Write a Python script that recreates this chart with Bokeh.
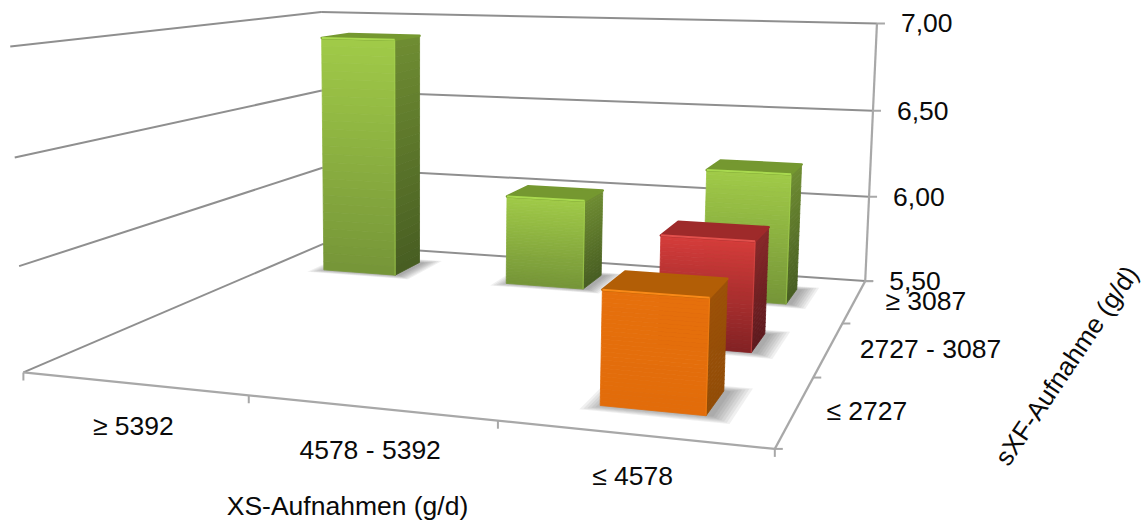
import numpy as np
from bokeh.core.properties import value
from bokeh.embed import file_html
from bokeh.models import ColumnDataSource, Range1d
from bokeh.plotting import figure
from bokeh.resources import INLINE

# Chart content
xs_categories = ["≥ 5392", "4578 - 5392", "≤ 4578"]
sxf_categories = ["≤ 2727", "2727 - 3087", "≥ 3087"]
value_ticks = [5.5, 6.0, 6.5, 7.0]
value_tick_labels = ["5,50", "6,00", "6,50", "7,00"]
bar_xs_index = [0, 1, 2, 2, 2]
bar_sxf_index = [2, 2, 2, 1, 0]
bar_values = [6.89, 6.01, 6.22, 6.05, 6.01]

VMIN, VMAX = value_ticks[0], value_ticks[-1]
BAR_HALF_X = 0.2
BAR_HALF_Y = 0.18

# Camera calibration: plot-box locations and where they land on the page
box_points = np.array([
    (0, 3, 0), (3, 3, 0), (3, 0, 0), (0, 0, 0), (0, 3, 1), (3, 3, 1), (0, 0, 1),
    (1, 0, 0), (2, 0, 0), (3, 1, 0), (3, 2, 0), (0, 3, 1 / 3), (0, 0, 1 / 3), (0, 3, 2 / 3), (0, 0, 2 / 3),
], dtype=float)
page_points = np.array([
    (323, 243), (865, 280), (773, 449), (24, 372), (320, 12), (877, 24), (10, 45),
    (248, 398), (497, 422), (813, 375), (842, 322), (322, 168), (18, 264), (321, 90), (15, 156),
], dtype=float)


def fit_camera(world, page):
    rows = []
    for (x, y, z), (u, v) in zip(world, page):
        rows.append([x, y, z, 1, 0, 0, 0, 0, -u * x, -u * y, -u * z, -u])
        rows.append([0, 0, 0, 0, x, y, z, 1, -v * x, -v * y, -v * z, -v])
    return np.linalg.svd(np.array(rows))[2][-1].reshape(3, 4)


CAMERA = fit_camera(box_points, page_points)


def project(x, y, v):
    """Map column, depth and chart value to page coordinates."""
    h = CAMERA @ np.array([x, y, (v - VMIN) / (VMAX - VMIN), 1.0])
    return h[0] / h[2], h[1] / h[2]


def mix(a, b, t):
    a, b = np.array(a, float), np.array(b, float)
    c = a + (b - a) * t
    return "#%02x%02x%02x" % tuple(int(round(k)) for k in c)


p = figure(width=1146, height=520, output_backend="svg", toolbar_location=None,
           x_range=Range1d(0, 1146), y_range=Range1d(520, 0), min_border=0,
           outline_line_color=None, background_fill_color="white")
p.axis.visible = False
p.grid.visible = False

GRID = "#8f8f8f"
AXIS = "#a8a8a8"


def seg(a, b, color, width=2.0, alpha=1.0):
    p.line([a[0], b[0]], [a[1], b[1]], line_color=color, line_width=width, line_alpha=alpha)


# Walls: gridlines at every value tick
for v in value_ticks:
    seg(project(0, 0, v), project(0, 3, v), GRID)
    seg(project(0, 3, v), project(3, 3, v), GRID)

# Floor edges and the upright value axis
seg(project(0, 0, VMIN), project(3, 0, VMIN), AXIS, 2.2)
seg(project(3, 0, VMIN), project(3, 3, VMIN), AXIS, 2.2)
seg(project(3, 3, VMIN), project(3, 3, VMAX), AXIS, 2.2)

for i in range(4):
    a = project(i, 0, VMIN)
    seg(a, (a[0], a[1] + 8), AXIS, 2.0)
for k in range(4):
    a = project(3, k, VMIN)
    seg(a, (a[0] + 8, a[1]), AXIS, 2.0)
for v in value_ticks:
    a = project(3, 3, v)
    seg(a, (a[0] + 8, a[1]), AXIS, 2.0)

PALETTE = {
    2: dict(front=((160, 202, 72), (118, 150, 56)), side=((110, 140, 50), (72, 94, 34)),
            top=(117, 152, 48), light="#a9d94f"),
    1: dict(front=((212, 60, 58), (132, 34, 36)), side=((136, 40, 42), (94, 26, 30)),
            top=(158, 42, 42), light="#e2504c"),
    0: dict(front=((230, 112, 12), (226, 108, 10)), side=((156, 82, 8), (146, 76, 6)),
            top=(178, 94, 6), light="#f98a18"),
}


def add_shadow(cx, cy):
    for step in range(7):
        grow_x = BAR_HALF_X + 0.008 + 0.012 * step
        grow_y = BAR_HALF_Y + 0.004 + 0.012 * step
        corners = [project(cx + sx * grow_x + 0.02, cy + sy * grow_y, VMIN)
                   for sx, sy in ((-1, -1), (1, -1), (1, 1), (-1, 1))]
        p.patch([c[0] for c in corners], [c[1] for c in corners], fill_color="#555555",
                fill_alpha=0.085, line_color=None)


def add_face(corners, colors):
    """Fill a quad (top-left, top-right, bottom-right, bottom-left) with a vertical fade."""
    tl, tr, br, bl = [np.array(c) for c in corners]
    n = len(colors)
    xs_, ys_ = [], []
    for j in range(n):
        t0, t1 = j / n, (j + 1) / n
        quad = [tl + (bl - tl) * t0, tr + (br - tr) * t0, tr + (br - tr) * t1, tl + (bl - tl) * t1]
        xs_.append([q[0] for q in quad])
        ys_.append([q[1] for q in quad])
    src = ColumnDataSource(dict(xs=xs_, ys=ys_, c=colors))
    p.patches("xs", "ys", source=src, fill_color="c", line_color="c", line_width=0.8)


order = sorted(range(len(bar_values)), key=lambda i: -bar_sxf_index[i])
for i in order:
    add_shadow(bar_xs_index[i] + 0.5, bar_sxf_index[i] + 0.5)

for i in order:
    cx, cy = bar_xs_index[i] + 0.5, bar_sxf_index[i] + 0.5
    v = bar_values[i]
    pal = PALETTE[bar_sxf_index[i]]
    x0, x1 = cx - BAR_HALF_X, cx + BAR_HALF_X
    y0, y1 = cy - BAR_HALF_Y, cy + BAR_HALF_Y
    n = 28
    side_colors = [mix(*pal["side"], j / (n - 1)) for j in range(n)]
    front_colors = [mix(*pal["front"], j / (n - 1)) for j in range(n)]
    add_face([project(x1, y0, v), project(x1, y1, v), project(x1, y1, VMIN), project(x1, y0, VMIN)], side_colors)
    add_face([project(x0, y0, v), project(x1, y0, v), project(x1, y0, VMIN), project(x0, y0, VMIN)], front_colors)
    top = [project(x0, y0, v), project(x1, y0, v), project(x1, y1, v), project(x0, y1, v)]
    top_color = mix(pal["top"], pal["top"], 0)
    p.patch([c[0] for c in top], [c[1] for c in top], fill_color=top_color, line_color=top_color,
            line_width=2.5, line_join="round")
    seg(project(x0, y0, v), project(x1, y0, v), pal["light"], 2.0)
    seg(project(x1, y0, v), project(x1, y0, VMIN), pal["light"], 1.2, 0.5)

# Texts
FONT = value("Liberation Sans")
SIZE = "26.5px"
TEXT = "#0a0a0a"


def label(x, y, text, align="center", angle=0.0, size=SIZE):
    p.text([x], [y], text=[text], text_font=FONT, text_font_size=size, text_color=TEXT,
           text_align=align, text_baseline="middle", angle=angle, angle_units="deg")


for v, t in zip(value_ticks, value_tick_labels):
    a = project(3, 3, v)
    label(a[0] + 24, a[1], t, "left")
for i, t in enumerate(xs_categories):
    a = project(i + 0.5, 0, VMIN)
    label(a[0], a[1] + 42, t)
for k, t in enumerate(sxf_categories):
    a = project(3, k + 0.5, VMIN)
    label(a[0] + 31, a[1], t, "left")

label(347, 505, "XS-Aufnahmen (g/d)")
label(1066, 365, "sXF-Aufnahme (g/d)", "center", 56, "26px")

open("out.html", "w").write(file_html(p, INLINE))
